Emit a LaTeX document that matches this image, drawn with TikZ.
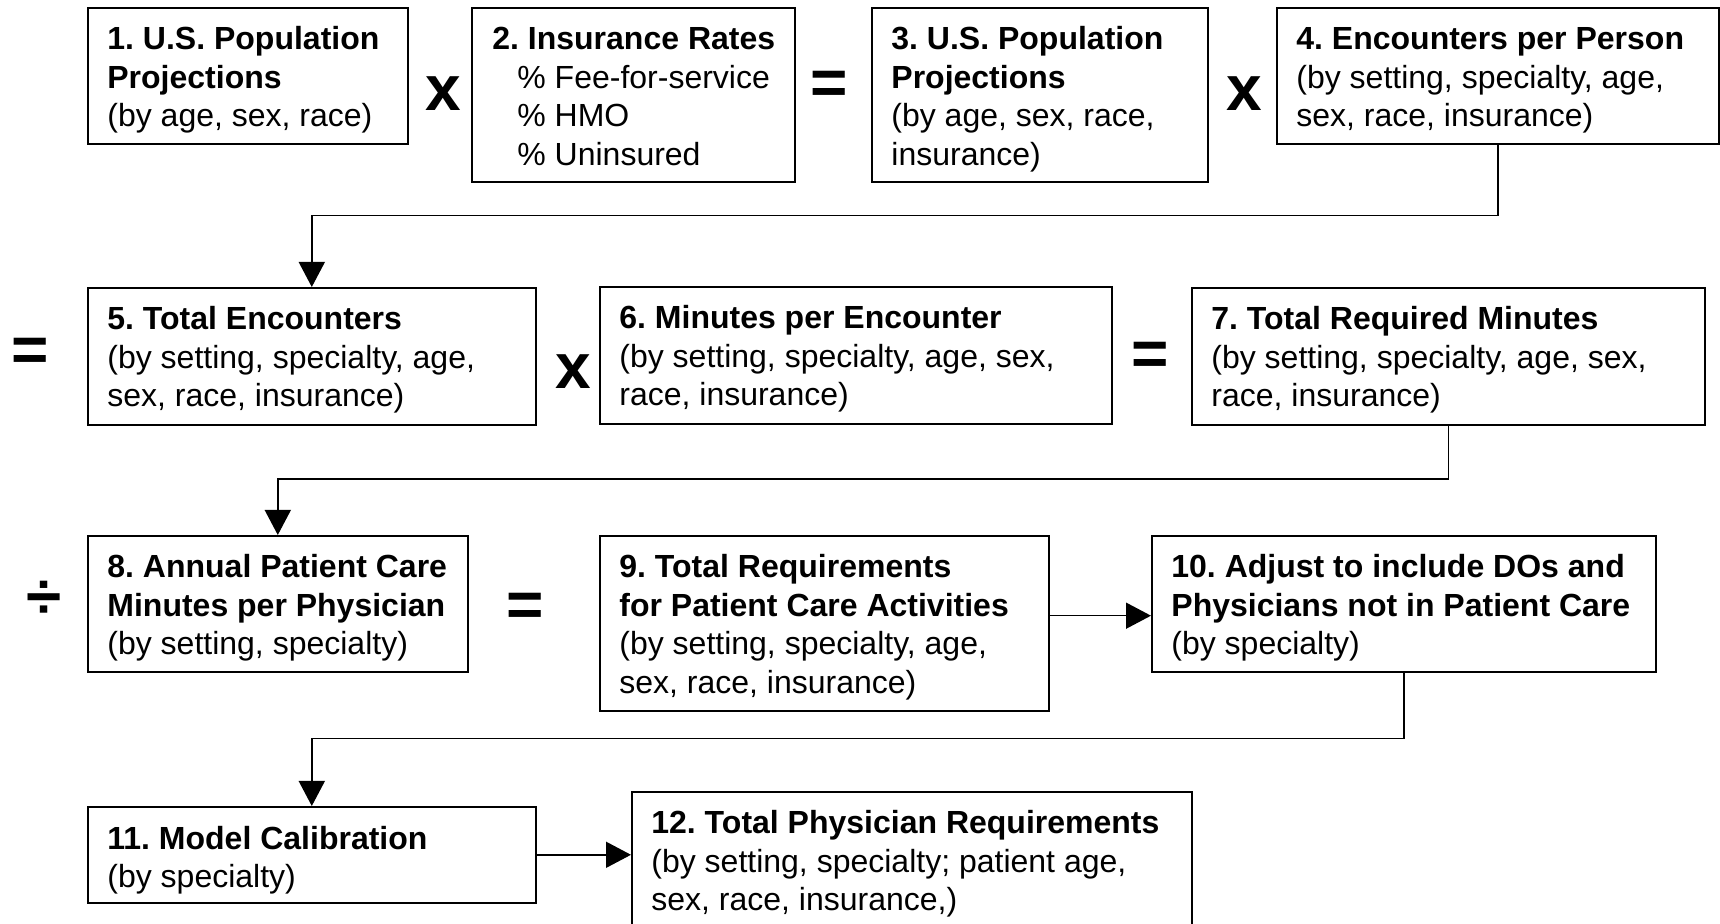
\documentclass[tikz,border=0pt]{standalone}
\usepackage{fontspec}
\setmainfont{Liberation Sans}
\usetikzlibrary{arrows.meta}
\frenchspacing
\tikzset{
  box/.style={draw, line width=0.8pt, anchor=north west, inner sep=0pt},
  txt/.style={anchor=base west, inner sep=0pt, font=\fontsize{16}{19.2}\selectfont},
  op/.style={inner sep=0pt, font=\fontsize{32}{32}\selectfont\bfseries},
  arr/.style={line width=0.8pt, -{Triangle[length=12.5pt,width=13pt]}},
  link/.style={line width=0.8pt},
}
\newcommand{\boxlines}[1]{\begin{tabular}[t]{@{}l@{}}#1\end{tabular}}
\begin{document}
\begin{tikzpicture}[x=0.5pt,y=-0.5pt]
\useasboundingbox (0,0) rectangle (1720,924);
\clip (0,0) rectangle (1720,924);
% boxes
\node[box, minimum width=160pt, minimum height=68pt] (b1) at (87,7) {};
\node[box, minimum width=161.5pt, minimum height=87pt] (b2) at (471,7) {};
\node[box, minimum width=168pt, minimum height=87pt] (b3) at (871,7) {};
\node[box, minimum width=221pt, minimum height=68pt] (b4) at (1276,7) {};
\node[box, minimum width=224pt, minimum height=68.5pt] (b5) at (87,287) {};
\node[box, minimum width=256pt, minimum height=68.5pt] (b6) at (599,286) {};
\node[box, minimum width=256.5pt, minimum height=68.5pt] (b7) at (1191,287) {};
\node[box, minimum width=190pt, minimum height=68pt] (b8) at (87,535) {};
\node[box, minimum width=224.5pt, minimum height=87.5pt] (b9) at (599,535) {};
\node[box, minimum width=252pt, minimum height=68pt] (b10) at (1151,535) {};
\node[box, minimum width=224pt, minimum height=48pt] (b11) at (87,806) {};
\node[box, minimum width=280pt, minimum height=87.5pt] (b12) at (631,791) {};
% texts
\node[txt] (t1) at ([shift={(10pt,-21.5pt)}]b1.north west) {\boxlines{\textbf{1. U.S. Population}\\\textbf{Projections}\\(by age, sex, race)}};
\node[txt] (t2) at ([shift={(10.5pt,-21.5pt)}]b2.north west) {\boxlines{\textbf{2. Insurance Rates}\\\hspace{12.5pt}\% Fee-for-service\\\hspace{12.5pt}\% HMO\\\hspace{12.5pt}\% Uninsured}};
\node[txt] (t3) at ([shift={(10pt,-21.5pt)}]b3.north west) {\boxlines{\textbf{3. U.S. Population}\\\textbf{Projections}\\(by age, sex, race,\\insurance)}};
\node[txt] (t4) at ([shift={(10pt,-21.5pt)}]b4.north west) {\boxlines{\textbf{4. Encounters per Person}\\(by setting, specialty, age,\\sex, race, insurance)}};
\node[txt] (t5) at ([shift={(10pt,-21.5pt)}]b5.north west) {\boxlines{\textbf{5. Total Encounters}\\(by setting, specialty, age,\\sex, race, insurance)}};
\node[txt] (t6) at ([shift={(10pt,-21.5pt)}]b6.north west) {\boxlines{\textbf{6. Minutes per Encounter}\\(by setting, specialty, age, sex,\\race, insurance)}};
\node[txt] (t7) at ([shift={(10pt,-21.5pt)}]b7.north west) {\boxlines{\textbf{7. Total Required Minutes}\\(by setting, specialty, age, sex,\\race, insurance)}};
\node[txt] (t8) at ([shift={(10pt,-21.5pt)}]b8.north west) {\boxlines{\textbf{8. Annual Patient Care}\\\textbf{Minutes per Physician}\\(by setting, specialty)}};
\node[txt] (t9) at ([shift={(10pt,-21.5pt)}]b9.north west) {\boxlines{\textbf{9. Total Requirements}\\\textbf{for Patient Care Activities}\\(by setting, specialty, age,\\sex, race, insurance)}};
\node[txt] (t10) at ([shift={(10pt,-21.5pt)}]b10.north west) {\boxlines{\textbf{10. Adjust to include DOs and}\\\textbf{Physicians not in Patient Care}\\(by specialty)}};
\node[txt] (t11) at ([shift={(10pt,-21.5pt)}]b11.north west) {\boxlines{\textbf{11. Model Calibration}\\(by specialty)}};
\node[txt] (t12) at ([shift={(10pt,-21.5pt)}]b12.north west) {\boxlines{\textbf{12. Total Physician Requirements}\\(by setting, specialty; patient age,\\sex, race, insurance,)}};
% operators
\node[op] (o1) at (443,94) {x};
\node[op] (o2) at (829,88) {=};
\node[op] (o3) at (1244,94) {x};
\node[op] (o4) at (30,355) {=};
\node[op] (o5) at (573,372) {x};
\node[op] (o6) at (1150,359) {=};
\node[op] (o7) at (44,600) {÷};
\node[op] (o8) at (525.5,610) {=};
% connectors
\coordinate (m1) at (0,215.7);
\coordinate (m2) at (0,479.3);
\coordinate (m3) at (0,738.7);
\coordinate (m4) at (0,615.7);
\draw[arr] (b4.south) -- (b4.south |- m1) -| (b5.north);
\draw[arr] (b7.south) -- (b7.south |- m2) -| (b8.north);
\draw[arr] (b10.south) -- (b10.south |- m3) -| (b11.north);
\draw[arr] (b9.east |- m4) -- (b10.west |- m4);
\draw[arr] (b11.east) -- (b12.west |- b11.east);
\end{tikzpicture}
\end{document}
